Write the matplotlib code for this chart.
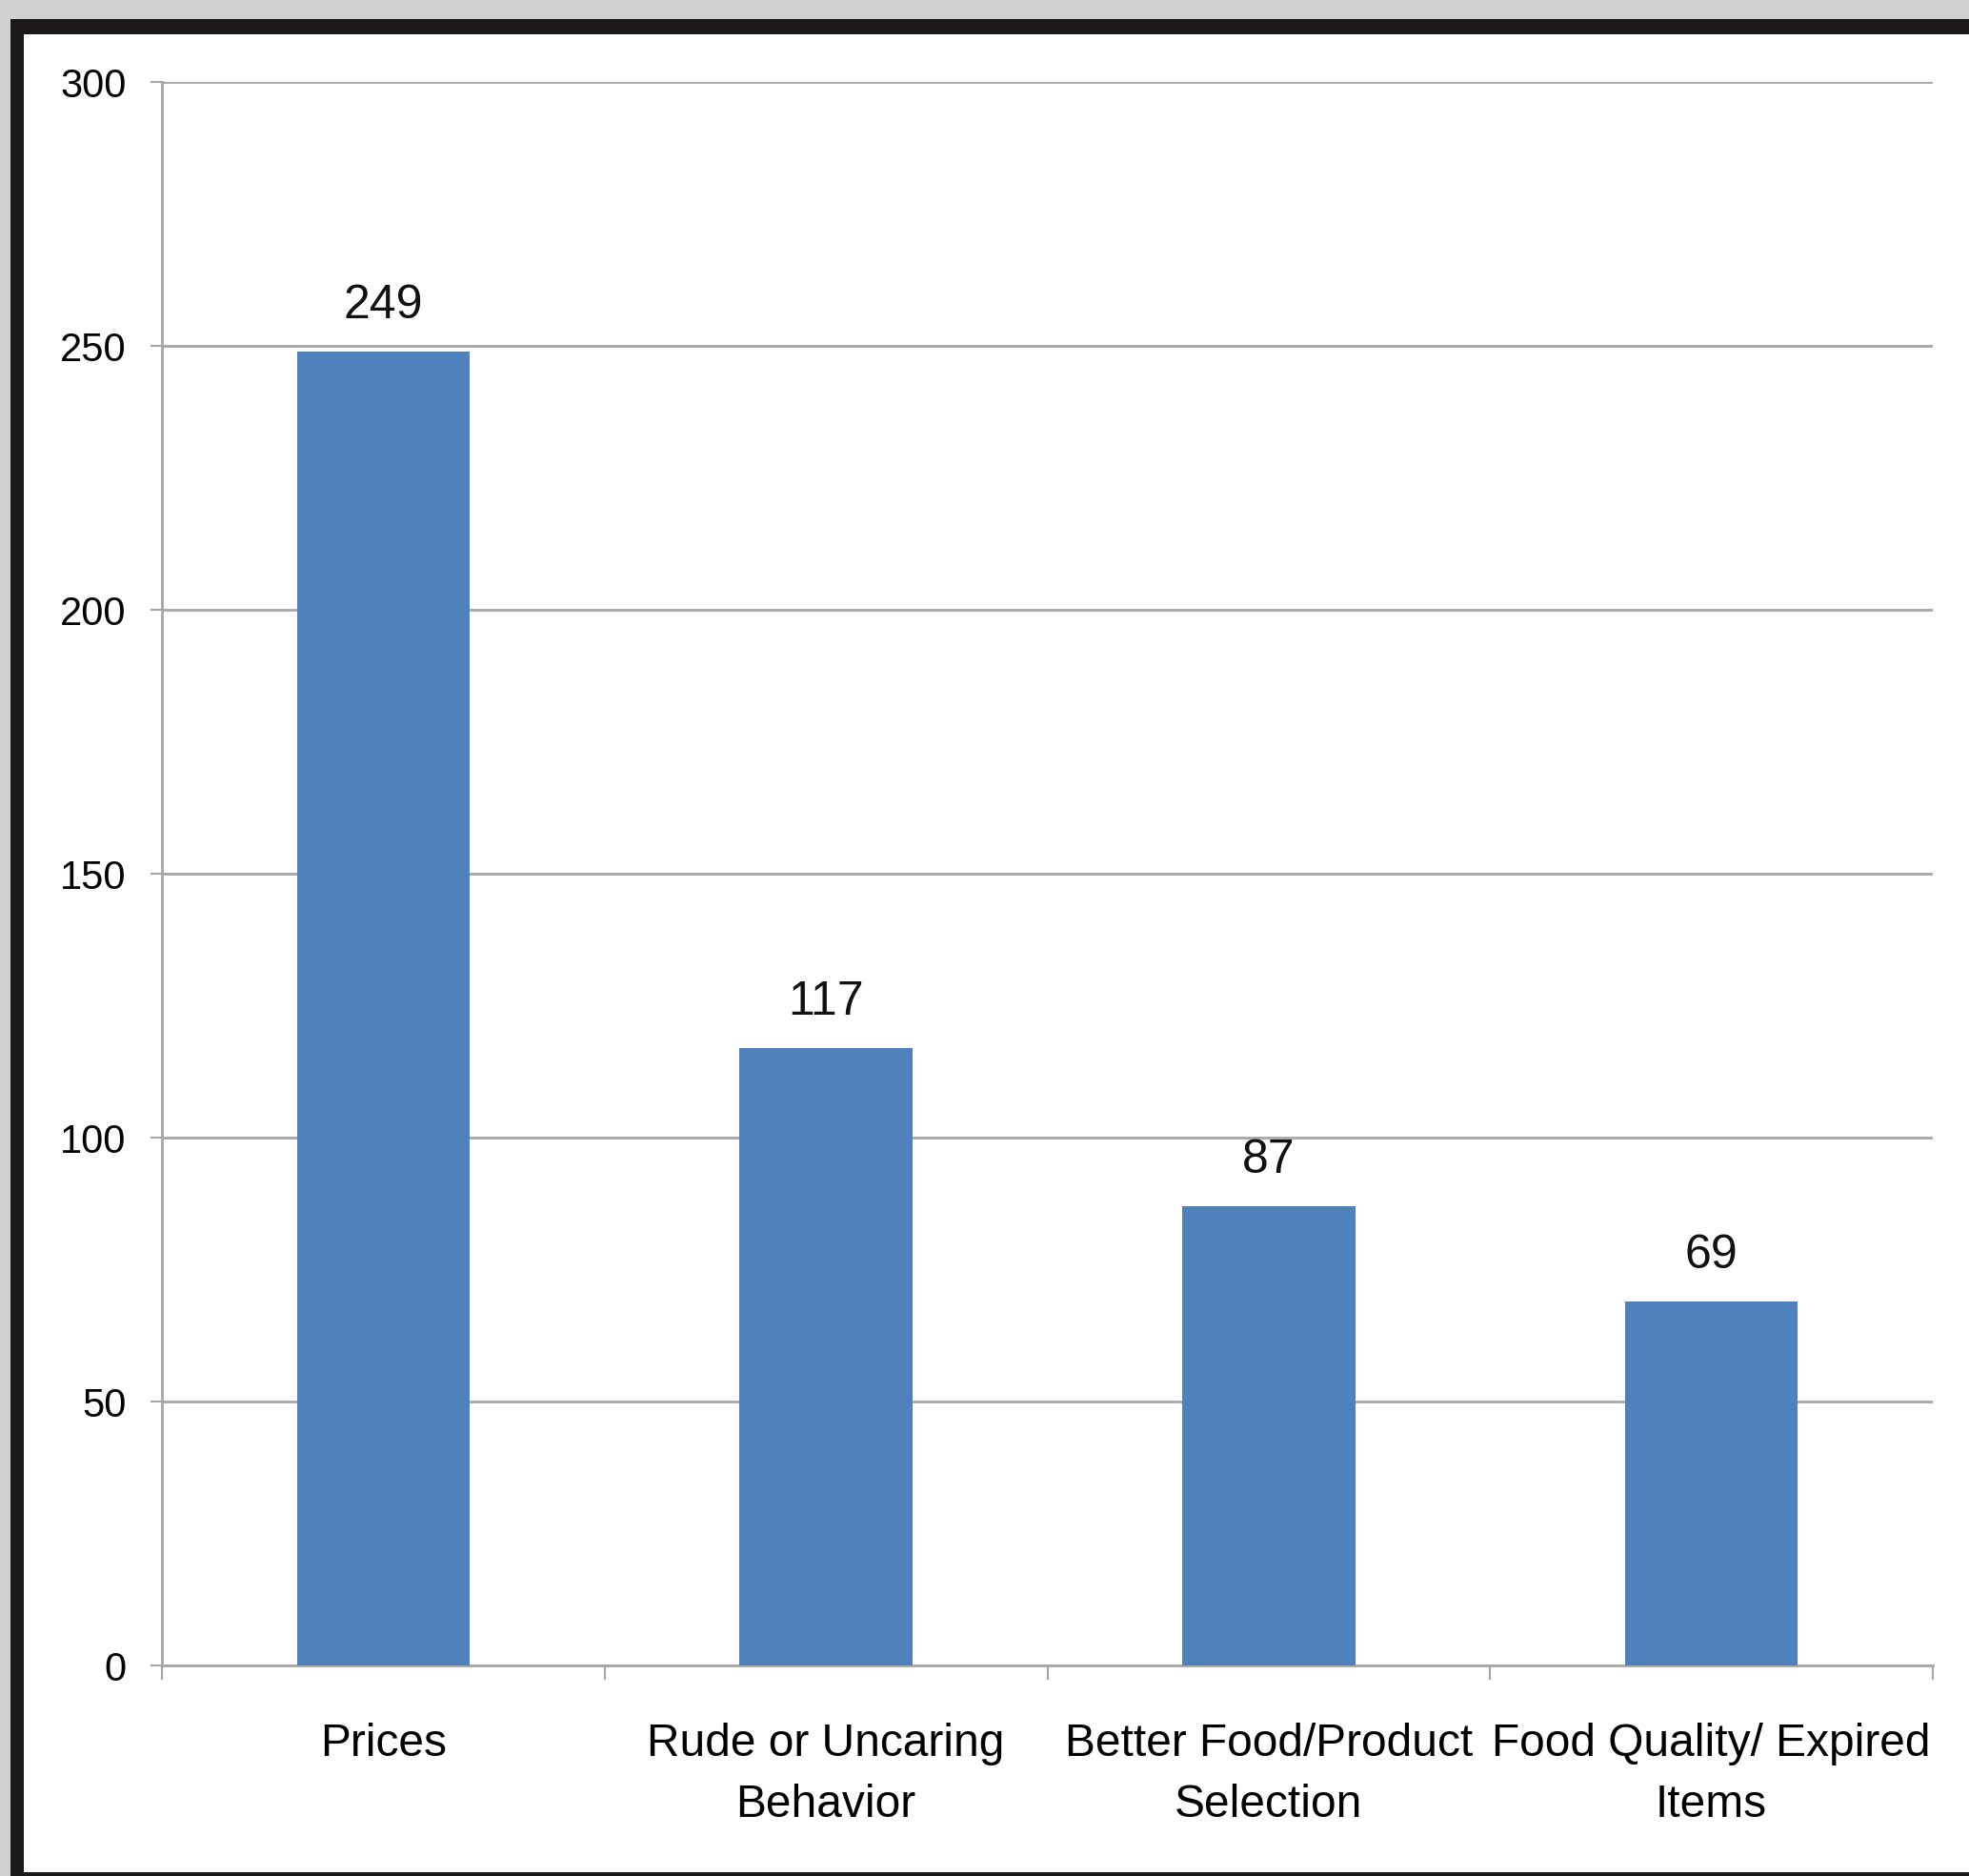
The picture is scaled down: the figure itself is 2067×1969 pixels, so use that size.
import matplotlib
matplotlib.use("Agg")
import matplotlib.pyplot as plt
from matplotlib.patches import Rectangle

categories = ["Prices", "Rude or Uncaring\nBehavior", "Better Food/Product\nSelection",
              "Food Quality/ Expired\nItems"]
counts = [249, 117, 87, 69]
y_ticks = [0, 50, 100, 150, 200, 250, 300]

W, H = 2067, 1969
DPI = 100
plt.rcParams["font.family"] = ["Liberation Sans", "DejaVu Sans"]

fig = plt.figure(figsize=(W / DPI, H / DPI), dpi=DPI)
fig.patch.set_facecolor("#d0d1d3")

# Black frame with white panel inside
fig.patches.append(Rectangle((11 / W, 0), 1, 1 - 20 / H, transform=fig.transFigure,
                             facecolor="#1a1818", edgecolor="none", zorder=-2))
fig.patches.append(Rectangle((25 / W, 1 - 1965 / H), 1, (1965 - 36) / H,
                             transform=fig.transFigure, facecolor="white",
                             edgecolor="none", zorder=-1))

ax = fig.add_axes([170 / W, 1 - 1748 / H, (2029 - 170) / W, (1748 - 86) / H])
ax.set_zorder(2)
ax.set_facecolor("none")

grid_col = "#a6a6a6"
x = list(range(len(categories)))
bars = ax.bar(x, counts, width=0.39, color="#4f81bd", zorder=3)

for xi, v in zip(x, counts):
    ax.annotate(str(v), (xi, v), xytext=(0, 18), textcoords="offset points",
                ha="center", va="bottom", fontsize=36, color="#111111")

ax.set_xlim(-0.5, len(categories) - 0.5)
ax.set_ylim(0, 300)
ax.set_yticks(y_ticks)
ax.yaxis.grid(True, color=grid_col, linewidth=2)
ax.set_axisbelow(True)

ax.set_xticks(x)
ax.set_xticklabels(categories, fontsize=34.5, linespacing=1.55)
ax.set_xticks([i - 0.5 for i in range(len(categories) + 1)], minor=True)
ax.tick_params(axis="x", which="major", length=0, pad=43)
ax.tick_params(axis="x", which="minor", length=11, width=1.5, color=grid_col)
ax.tick_params(axis="y", length=9, width=1.5, color=grid_col, pad=18, labelsize=30)

for s in ["top", "right"]:
    ax.spines[s].set_visible(False)
for s in ["left", "bottom"]:
    ax.spines[s].set_color(grid_col)
    ax.spines[s].set_linewidth(2)

fig.savefig("out.png", dpi=DPI, facecolor=fig.get_facecolor())
